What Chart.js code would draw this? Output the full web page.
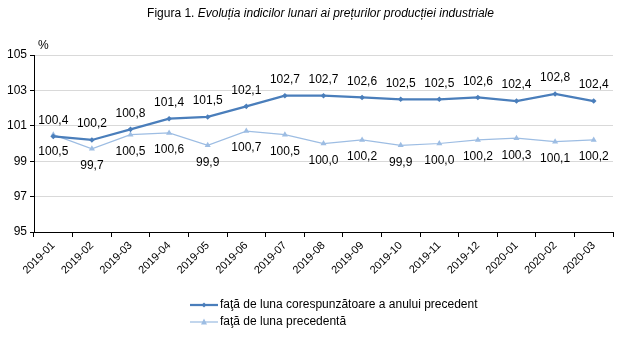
<!DOCTYPE html>
<html>
<head>
<meta charset="utf-8">
<script src="https://cdn.jsdelivr.net/npm/chart.js@4"></script>
<style>
  html,body{margin:0;padding:0;background:#fff;}
  #wrap{position:relative;width:626px;height:337px;font-family:"Liberation Sans",Arial,sans-serif;color:#000;}
  #title{position:absolute;top:6px;left:0;width:641px;text-align:center;font-size:12px;white-space:nowrap;}
  #pct{position:absolute;top:38px;left:38px;font-size:12px;}
  canvas{position:absolute;left:0;top:0;}
  #legend{position:absolute;left:190px;top:296px;font-size:12px;}
  .li{height:17px;line-height:17px;display:flex;align-items:center;white-space:nowrap;}
  .li svg{margin-right:2px;}
</style>
</head>
<body>
<div id="wrap">
  <canvas id="c" width="626" height="337"></canvas>
  <div id="title">Figura 1. <i>Evoluția indicilor lunari ai prețurilor producției industriale</i></div>
  <div id="pct">%</div>
  <div id="legend">
    <div class="li"><svg width="28" height="8"><line x1="0" y1="4" x2="28" y2="4" stroke="#4A7EBB" stroke-width="2.25"/><polygon points="14,1.5 16.5,4 14,6.5 11.5,4" fill="#4A7EBB"/></svg><span>faţă de luna corespunzătoare a anului precedent</span></div>
    <div class="li"><svg width="28" height="8"><line x1="0" y1="4" x2="28" y2="4" stroke="#9DBDE3" stroke-width="1.25"/><polygon points="14,0.5 17,6.5 11,6.5" fill="#9DBDE3"/></svg><span>faţă de luna precedentă</span></div>
  </div>
</div>
<script>
const categories = ["2019-01","2019-02","2019-03","2019-04","2019-05","2019-06","2019-07","2019-08","2019-09","2019-10","2019-11","2019-12","2020-01","2020-02","2020-03"];
const seriesYoY = [100.4,100.2,100.8,101.4,101.5,102.1,102.7,102.7,102.6,102.5,102.5,102.6,102.4,102.8,102.4];
const seriesMoM = [100.5,99.7,100.5,100.6,99.9,100.7,100.5,100.0,100.2,99.9,100.0,100.2,100.3,100.1,100.2];
const seriesNames = ["faţă de luna corespunzătoare a anului precedent","faţă de luna precedentă"];
const yTicks = [95,97,99,101,103,105];

const FONT = '"Liberation Sans", Arial, sans-serif';

const labelPlugin = {
  id: 'valLabels',
  afterDatasetsDraw(chart) {
    const ctx = chart.ctx;
    ctx.save();
    ctx.font = '12px ' + FONT;
    ctx.fillStyle = '#000';
    ctx.textAlign = 'center';
    ctx.textBaseline = 'middle';
    chart.data.datasets.forEach((ds, di) => {
      const meta = chart.getDatasetMeta(di);
      const off = di === 0 ? -16 : 17;
      meta.data.forEach((pt, i) => {
        const txt = ds.data[i].toFixed(1).replace('.', ',');
        ctx.fillText(txt, pt.x, pt.y + off);
      });
    });
    ctx.restore();
  }
};

new Chart(document.getElementById('c'), {
  type: 'line',
  data: {
    labels: categories,
    datasets: [
      {label: seriesNames[0], data: seriesYoY, borderColor: '#4A7EBB', backgroundColor: '#4A7EBB',
       borderWidth: 2.25, pointStyle: 'rectRot', pointRadius: 2.8, pointBorderWidth: 0, tension: 0},
      {label: seriesNames[1], data: seriesMoM, borderColor: '#9DBDE3', backgroundColor: '#9DBDE3',
       borderWidth: 1.25, pointStyle: 'triangle', pointRadius: 3.5, pointBorderWidth: 0, tension: 0}
    ]
  },
  options: {
    responsive: false,
    animation: false,
    devicePixelRatio: 1,
    layout: {padding: {left: 0, right: 13, top: 55, bottom: 0}},
    plugins: {legend: {display: false}, title: {display: false}, tooltip: {enabled: false}},
    scales: {
      x: {
        offset: true,
        grid: {offset: true, drawOnChartArea: false, tickLength: 5, tickColor: '#000'},
        border: {color: '#000', width: 1},
        ticks: {font: {family: FONT, size: 11}, color: '#000', minRotation: 45, maxRotation: 45, padding: 2},
        afterFit(s) { s.height = 105; }
      },
      y: {
        min: 95, max: 105,
        afterBuildTicks(s) { s.ticks = yTicks.map(v => ({value: v})); },
        grid: {color: '#d9d9d9', tickColor: '#000', tickLength: 4},
        border: {color: '#000', width: 1},
        ticks: {font: {family: FONT, size: 12}, color: '#000', padding: 3},
        afterFit(s) { s.width = 34; }
      }
    }
  },
  plugins: [labelPlugin]
});
</script>
</body>
</html>
